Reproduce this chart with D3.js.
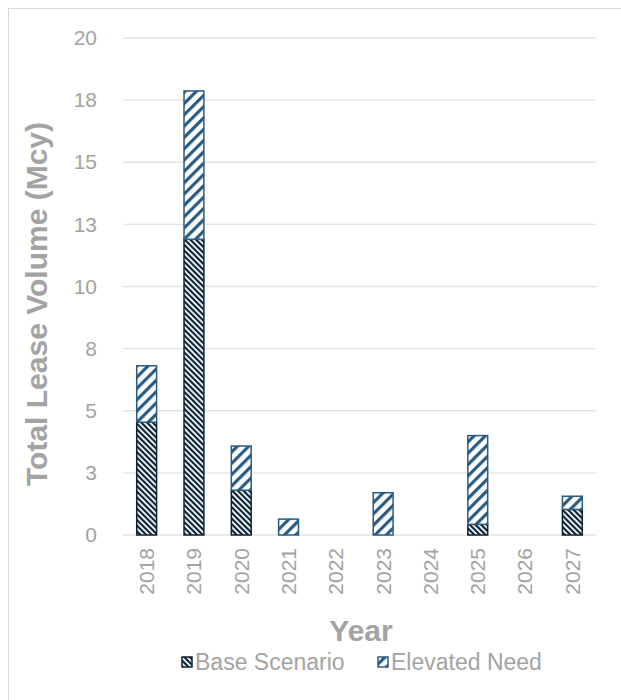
<!DOCTYPE html>
<html>
<head>
<meta charset="utf-8">
<script src="https://cdn.jsdelivr.net/npm/d3@7"></script>
<style>
  body { margin: 0; background: #fff; }
  text { font-family: "Liberation Sans", Arial, sans-serif; }
</style>
</head>
<body>
<div id="chart"></div>
<script>
// data
const years = ["2018","2019","2020","2021","2022","2023","2024","2025","2026","2027"];
const baseScenario = [4.54, 11.9, 1.8, 0, 0, 0, 0, 0.43, 0, 1.03];
const elevatedNeed = [2.27, 5.97, 1.78, 0.64, 0, 1.7, 0, 3.57, 0, 0.53];
const yTicks = [0, 2.5, 5, 7.5, 10, 12.5, 15, 17.5, 20];
const seriesNames = ["Base Scenario", "Elevated Need"];

const W = 621, H = 700;
const margin = {top: 38, right: 25, bottom: 165, left: 123};
const width = W - margin.left - margin.right,
      height = H - margin.top - margin.bottom;

const baseColor = "#0a2436", elevColor = "#2a5c83", grey = "#a3a3a3";

const svg = d3.select("#chart").append("svg")
  .attr("width", W).attr("height", H);

// hatch patterns
const defs = svg.append("defs");
const p1 = defs.append("pattern").attr("id", "hatchBase")
  .attr("patternUnits", "userSpaceOnUse").attr("width", 4).attr("height", 4)
  .attr("patternTransform", "rotate(-45)");
p1.append("rect").attr("width", 4).attr("height", 4).attr("fill", "#fff");
p1.append("rect").attr("width", 2.2).attr("height", 4).attr("fill", baseColor);

const p2 = defs.append("pattern").attr("id", "hatchElev")
  .attr("patternUnits", "userSpaceOnUse").attr("width", 8).attr("height", 8)
  .attr("patternTransform", "rotate(45)");
p2.append("rect").attr("width", 8).attr("height", 8).attr("fill", "#fff");
p2.append("rect").attr("width", 3.2).attr("height", 8).attr("fill", elevColor);

// outer frame
svg.append("rect").attr("x", 8.5).attr("y", 8.5).attr("width", W).attr("height", H)
  .attr("fill", "none").attr("stroke", "#d9d9d9");

const g = svg.append("g").attr("transform", `translate(${margin.left},${margin.top})`);

const x = d3.scaleBand().domain(years).range([0, width]).paddingInner(0.58).paddingOuter(0.29);
const y = d3.scaleLinear().domain([0, 20]).range([height, 0]);

// gridlines
g.selectAll(".grid").data(yTicks).enter().append("line")
  .attr("x1", 0).attr("x2", width)
  .attr("y1", d => y(d)).attr("y2", d => y(d))
  .attr("stroke", "#e3e3e3").attr("stroke-width", 1.3);

// y axis labels
const yAxis = g.append("g").attr("transform", "translate(-23,0)")
  .call(d3.axisLeft(y).tickValues(yTicks).tickSize(0).tickFormat(d => Math.round(d + 1e-9)));
yAxis.select(".domain").remove();
yAxis.selectAll("text").attr("fill", grey).style("font-size", "21px")
  .style("font-family", "'Liberation Sans', Arial, sans-serif");

// stacked bars
const rows = years.map((yr, i) => ({year: yr, base: baseScenario[i], elev: elevatedNeed[i]}));
const stack = d3.stack().keys(["base", "elev"])(rows);
const fills = ["url(#hatchBase)", "url(#hatchElev)"];
const strokes = [baseColor, elevColor];

stack.forEach((layer, k) => {
  g.selectAll(".bar" + k).data(layer.filter(d => d[1] - d[0] > 0)).enter().append("rect")
    .attr("x", d => x(d.data.year))
    .attr("width", x.bandwidth())
    .attr("y", d => y(d[1]))
    .attr("height", d => y(d[0]) - y(d[1]))
    .attr("fill", fills[k])
    .attr("stroke", strokes[k]).attr("stroke-width", 1.5);
});

// x axis labels
const xAxis = g.append("g").attr("transform", `translate(0,${height + 13})`)
  .call(d3.axisBottom(x).tickSize(0));
xAxis.select(".domain").remove();
xAxis.selectAll("text")
  .attr("fill", grey).style("font-size", "21px")
  .style("font-family", "'Liberation Sans', Arial, sans-serif")
  .attr("transform", "rotate(-90)")
  .attr("text-anchor", "end")
  .attr("x", 0).attr("y", 0).attr("dy", "0.35em");

// axis titles
svg.append("text")
  .attr("transform", "translate(47,304) rotate(-90)")
  .attr("text-anchor", "middle")
  .attr("fill", grey).style("font-size", "30px").style("font-weight", "bold")
  .text("Total Lease Volume (Mcy)");

svg.append("text")
  .attr("x", 361).attr("y", 641)
  .attr("text-anchor", "middle")
  .attr("fill", grey).style("font-size", "30px").style("font-weight", "bold")
  .text("Year");

// legend
const legendX = [182, 378];
const leg = svg.append("g");
seriesNames.forEach((name, i) => {
  const item = leg.append("g").attr("transform", `translate(${legendX[i]},662)`);
  item.append("rect").attr("x", 0).attr("y", -5).attr("width", 10).attr("height", 10)
    .attr("fill", fills[i]).attr("stroke", strokes[i]).attr("stroke-width", 1.5);
  item.append("text").attr("x", 13).attr("y", 0).attr("dy", "0.35em")
    .attr("fill", grey).style("font-size", "23px")
    .text(name);
});
</script>
</body>
</html>
